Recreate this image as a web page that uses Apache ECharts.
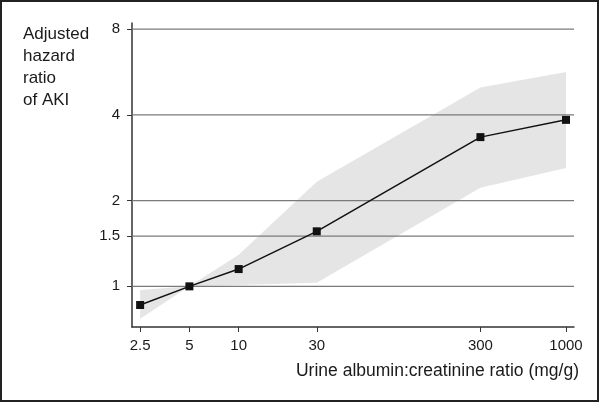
<!DOCTYPE html>
<html>
<head>
<meta charset="utf-8">
<script src="https://cdn.jsdelivr.net/npm/echarts@6.0.0/dist/echarts.min.js"></script>
<style>
  html, body { margin: 0; padding: 0; background: #fff; }
  #chart { width: 600px; height: 403px; }
</style>
</head>
<body>
<div id="chart"></div>
<script>
// urine albumin:creatinine ratio (mg/g)
var acr = [2.5, 5, 10, 30, 300, 1000];
// adjusted hazard ratio and its confidence band
var hr = [0.86, 1.0, 1.15, 1.56, 3.34, 3.84];
var hrUpper = [0.97, 1.0, 1.29, 2.33, 4.99, 5.65];
var hrLower = [0.77, 1.0, 1.01, 1.03, 2.22, 2.6];
// tick labels
var xTicks = [2.5, 5, 10, 30, 300, 1000];
var yTicks = [1, 1.5, 2, 4, 8];

window.onload = function () {
    var chart = echarts.init(document.getElementById('chart'));
    var font = 'Liberation Sans, Arial, sans-serif';

    var points = acr.map(function (x, i) { return [x, hr[i]]; });

    chart.setOption({
        animation: false,
        title: {
            text: 'Adjusted\nhazard\nratio\nof AKI',
            left: 18,
            top: 18,
            textStyle: {
                fontFamily: font,
                fontSize: 17,
                fontWeight: 'normal',
                color: '#1a1a1a',
                lineHeight: 22
            }
        },
        graphic: [{
            type: 'rect',
            shape: { x: 1, y: 1, width: 597, height: 400 },
            style: { fill: 'none', stroke: '#222', lineWidth: 2 },
            silent: true
        }, {
            type: 'text',
            right: 21,
            top: 362,
            style: {
                text: 'Urine albumin:creatinine ratio (mg/g)',
                font: '17.5px ' + font,
                fill: '#1a1a1a'
            }
        }],
        grid: { left: 132, right: 26, top: 23, bottom: 76 },
        xAxis: {
            type: 'log',
            min: 2.23,
            max: 1119,
            axisLine: { show: true, lineStyle: { color: '#333', width: 1.5 } },
            axisTick: { show: true, length: 5, customValues: xTicks, lineStyle: { color: '#333' } },
            axisLabel: {
                customValues: xTicks,
                color: '#1a1a1a',
                fontFamily: font,
                fontSize: 15,
                margin: 11,
                formatter: function (v) { return String(+v.toPrecision(4)); }
            },
            splitLine: { show: false },
            minorTick: { show: false }
        },
        yAxis: {
            type: 'log',
            min: 0.72,
            max: 8.4,
            axisLine: { show: true, lineStyle: { color: '#333', width: 1.5 } },
            axisTick: { show: true, length: 5, customValues: yTicks, lineStyle: { color: '#333' } },
            axisLabel: {
                customValues: yTicks,
                color: '#1a1a1a',
                fontFamily: font,
                fontSize: 15,
                margin: 12,
                formatter: function (v) { return String(+v.toPrecision(4)); }
            },
            splitLine: { show: false }
        },
        series: [{
            // confidence band
            type: 'custom',
            silent: true,
            z: 1,
            data: [0],
            renderItem: function (params, api) {
                var pts = [];
                acr.forEach(function (x, i) { pts.push(api.coord([x, hrUpper[i]])); });
                for (var i = acr.length - 1; i >= 0; i--) pts.push(api.coord([acr[i], hrLower[i]]));
                return {
                    type: 'polygon',
                    shape: { points: pts },
                    style: { fill: '#e5e5e5', stroke: null }
                };
            }
        }, {
            // gridlines at tick values, drawn over the band
            type: 'custom',
            silent: true,
            z: 2,
            data: yTicks,
            renderItem: function (params, api) {
                var y = api.value(0);
                var a = api.coord([2.23, y]);
                var b = api.coord([1119, y]);
                return {
                    type: 'line',
                    shape: { x1: a[0], y1: a[1], x2: b[0], y2: b[1] },
                    style: { stroke: '#7a7a7a', lineWidth: 1.2 }
                };
            }
        }, {
            type: 'line',
            z: 3,
            data: points,
            symbol: 'rect',
            symbolSize: 8,
            itemStyle: { color: '#111' },
            lineStyle: { color: '#111', width: 1.5 },
            silent: true
        }]
    });
};
</script>
</body>
</html>
